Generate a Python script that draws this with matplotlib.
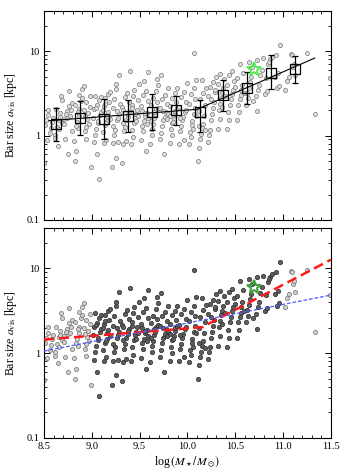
import matplotlib
matplotlib.use("Agg")
import matplotlib.pyplot as plt
import numpy as np
from matplotlib.ticker import FixedLocator, MultipleLocator, LogLocator, NullFormatter, FixedFormatter

plt.rcParams['font.family'] = ['Liberation Serif', 'DejaVu Serif']
plt.rcParams['mathtext.fontset'] = 'stix'

# ---- data: galaxies (log stellar mass, bar size kpc) ----
pts = [
 (8.51,1.33),(8.52,1.52),(8.545,1.74),(8.54,2.02),(8.565,1.08),(8.53,0.88),(8.575,1.24),(8.585,1.46),(8.50,0.48),(8.595,1.63),
 (8.645,0.76),(8.615,1.03),(8.632,1.27),(8.655,1.55),(8.668,1.66),(8.672,1.83),(8.622,2.06),(8.678,2.95),(8.692,2.62),(8.684,1.42),(8.661,1.19),(8.618,0.93),
 (8.752,0.60),(8.724,0.91),(8.712,1.37),(8.737,1.62),(8.744,1.94),(8.762,2.26),(8.758,3.42),(8.781,2.03),(8.773,1.71),(8.795,1.13),(8.706,1.58),(8.733,1.78),(8.789,2.44),
 (8.822,0.50),(8.834,0.66),(8.812,0.87),(8.853,1.22),(8.846,1.47),(8.866,1.73),(8.871,2.05),(8.825,2.33),(8.884,2.58),(8.862,3.04),(8.893,3.55),(8.914,3.86),(8.838,1.31),(8.857,1.91),(8.897,2.81),
 (8.992,0.42),(8.934,0.92),(8.925,1.12),(8.942,1.28),(8.951,1.57),(8.963,1.84),(8.915,2.01),(8.976,2.21),(8.936,2.47),(8.984,2.93),(8.966,1.39),(8.928,1.69),
 (9.072,0.31),(9.053,0.60),(9.021,0.84),(9.034,1.02),(9.046,1.21),(9.064,1.43),(9.012,1.62),(9.083,1.77),(9.026,2.04),(9.057,2.28),(9.075,2.63),(9.094,2.84),(9.035,2.97),(9.068,1.51),(9.091,1.93),(9.044,2.15),
 (9.124,0.81),(9.146,0.89),(9.112,1.09),(9.133,1.33),(9.155,1.49),(9.162,1.72),(9.174,1.88),(9.127,2.23),(9.183,2.47),(9.142,2.83),(9.165,3.12),(9.193,3.28),(9.116,2.01),(9.186,1.58),(9.151,1.41),(9.138,2.39),
 (9.213,0.42),(9.254,0.55),(9.226,0.81),(9.272,0.84),(9.234,1.03),(9.243,1.18),(9.265,1.53),(9.284,1.79),(9.218,2.12),(9.293,2.37),(9.237,2.74),(9.248,3.58),(9.257,4.04),(9.281,5.22),(9.276,1.62),(9.222,1.29),(9.262,1.98),
 (9.313,0.47),(9.324,0.79),(9.353,0.86),(9.335,1.12),(9.346,1.27),(9.362,1.52),(9.374,1.68),(9.385,1.92),(9.316,2.18),(9.393,2.53),(9.352,2.87),(9.367,3.22),(9.331,1.43),(9.376,1.81),(9.322,2.02),(9.394,5.80),
 (9.414,0.80),(9.433,0.96),(9.425,1.18),(9.446,1.42),(9.452,1.63),(9.463,1.78),(9.474,2.03),(9.416,2.31),(9.483,2.64),(9.435,2.98),(9.444,3.48),(9.492,4.05),(9.466,1.49),(9.423,2.11),(9.487,1.72),
 (9.563,0.65),(9.512,0.88),(9.534,1.13),(9.522,1.31),(9.545,1.48),(9.553,1.71),(9.574,1.87),(9.516,2.24),(9.584,2.57),(9.536,3.03),(9.565,3.41),(9.547,4.48),(9.583,5.60),(9.592,1.61),(9.527,1.97),(9.576,1.38),(9.557,1.83),
 (9.613,0.79),(9.632,1.02),(9.625,1.21),(9.644,1.39),(9.655,1.62),(9.663,1.78),(9.674,2.04),(9.617,2.29),(9.683,2.52),(9.636,2.77),(9.667,3.34),(9.692,3.96),(9.685,4.64),(9.623,1.51),(9.645,1.92),(9.694,2.13),
 (9.753,0.60),(9.713,0.91),(9.726,1.08),(9.734,1.31),(9.745,1.52),(9.763,1.67),(9.772,1.91),(9.714,2.12),(9.783,2.38),(9.736,2.72),(9.764,3.07),(9.792,3.63),(9.727,5.20),(9.785,1.58),(9.744,1.98),(9.796,1.81),
 (9.813,0.81),(9.836,1.01),(9.824,1.19),(9.843,1.42),(9.854,1.58),(9.865,1.82),(9.873,1.97),(9.815,2.23),(9.884,2.48),(9.833,2.83),(9.866,3.17),(9.894,3.62),(9.822,1.69),(9.886,2.12),(9.845,1.47),
 (9.914,0.80),(9.963,0.89),(9.923,1.12),(9.934,1.29),(9.945,1.52),(9.952,1.68),(9.976,1.93),(9.915,2.18),(9.984,2.53),(9.932,2.87),(9.965,3.32),(9.993,4.19),(9.926,1.62),(9.986,2.02),
 (10.013,0.79),(10.034,0.96),(10.024,1.09),(10.046,1.32),(10.052,1.48),(10.063,1.79),(10.074,2.12),(10.016,2.38),(10.083,2.72),(10.035,3.08),(10.066,3.62),(10.094,4.58),(10.072,9.50),(10.055,1.19),(10.093,1.71),
 (10.114,0.50),(10.125,0.72),(10.133,0.91),(10.146,1.04),(10.153,1.22),(10.164,1.39),(10.172,1.72),(10.116,1.98),(10.183,2.32),(10.135,2.68),(10.166,3.22),(10.193,3.68),(10.155,4.52),(10.186,1.16),(10.124,1.31),
 (10.214,0.85),(10.226,1.02),(10.233,1.18),(10.245,1.52),(10.253,1.78),(10.264,2.12),(10.272,2.48),(10.216,2.92),(10.284,3.28),(10.235,3.82),(10.266,4.28),(10.293,5.02),(10.244,2.68),(10.286,3.52),
 (10.314,1.21),(10.335,1.58),(10.326,2.03),(10.344,2.38),(10.353,2.82),(10.365,3.18),(10.376,3.63),(10.315,4.12),(10.384,4.68),(10.336,5.42),(10.394,2.98),(10.363,2.21),
 (10.414,1.19),(10.436,1.52),(10.423,1.88),(10.445,2.32),(10.453,2.68),(10.464,3.12),(10.475,3.48),(10.416,4.03),(10.484,4.48),(10.435,5.22),(10.463,5.78),(10.493,3.82),
 (10.514,1.52),(10.535,1.88),(10.523,2.32),(10.545,2.68),(10.556,3.02),(10.563,3.48),(10.574,4.02),(10.515,4.78),(10.585,5.52),(10.553,7.02),(10.594,3.18),
 (10.613,2.32),(10.636,2.78),(10.624,3.22),(10.645,3.68),(10.653,4.32),(10.664,4.98),(10.675,6.48),(10.643,7.52),(10.684,2.58),
 (10.723,1.95),(10.714,2.92),(10.735,3.48),(10.744,4.02),(10.763,5.18),(10.774,6.02),(10.726,7.82),(10.785,8.22),
 (10.813,3.12),(10.834,3.38),(10.825,4.82),(10.846,6.98),(10.865,8.02),(10.884,8.62),(10.856,7.48),
 (10.934,3.62),(10.955,3.88),(10.915,5.02),(10.943,5.48),(10.926,9.02),(10.972,12.00),
 (11.024,3.52),(11.045,4.48),(11.063,5.02),(11.084,9.32),(11.093,8.98),
 (11.124,5.22),(11.104,6.48),(11.115,7.02),
 (11.25,9.50),(11.33,1.80),(11.49,4.80),
]
mass = np.array([p[0] for p in pts])
size = np.array([p[1] for p in pts])

# binned medians with error bars
bin_x = [8.63, 8.88, 9.13, 9.38, 9.63, 9.88, 10.13, 10.37, 10.62, 10.87, 11.12]
bin_y = [1.38, 1.62, 1.58, 1.73, 1.90, 1.99, 1.93, 2.99, 3.66, 5.57, 6.22]
bin_lo = [0.87, 1.02, 0.91, 1.11, 1.18, 1.34, 1.11, 1.96, 2.34, 3.53, 4.20]
bin_hi = [2.15, 2.60, 2.73, 2.65, 3.10, 2.95, 2.63, 4.60, 5.67, 9.10, 8.70]

# fit lines
fit_x = [8.55, 10.10, 11.33]
fit_y = [1.50, 2.05, 8.30]
red_x = [8.50, 10.15, 11.50]
red_y = [1.45, 2.02, 12.7]
blue_x = [8.50, 11.50]
blue_y = [1.06, 4.85]

star_x, star_y = 10.70, 6.1

mass_lo, mass_hi = 9.0, 10.98

fig = plt.figure(figsize=(3.53, 4.74), dpi=100)
ax1 = fig.add_axes([0.1246, 0.5359, 0.8131, 0.4409])
ax2 = fig.add_axes([0.1246, 0.0760, 0.8131, 0.4430])

def style(ax, labels):
    ax.set_yscale('log')
    ax.set_xlim(8.5, 11.5)
    ax.set_ylim(0.1, 30)
    ax.xaxis.set_major_locator(MultipleLocator(0.5))
    ax.xaxis.set_minor_locator(MultipleLocator(0.1))
    ax.yaxis.set_major_locator(FixedLocator([0.1, 1, 10]))
    ax.yaxis.set_major_formatter(FixedFormatter(['0.1', '1', '10']))
    ax.yaxis.set_minor_locator(LogLocator(base=10, subs=np.arange(2, 10)))
    ax.yaxis.set_minor_formatter(NullFormatter())
    ax.tick_params(which='both', direction='in', top=True, right=True, labelsize=7.5, pad=3)
    ax.tick_params(which='major', length=4.5, width=0.7)
    ax.tick_params(which='minor', length=2.2, width=0.6)
    if labels:
        ax.set_xticks([8.5, 9.0, 9.5, 10.0, 10.5, 11.0, 11.5])
        ax.set_xticklabels(['8.5', '9.0', '9.5', '10.0', '10.5', '11.0', '11.5'])
    else:
        ax.tick_params(axis='x', labelbottom=False)
    for s in ax.spines.values():
        s.set_linewidth(0.8)
    ax.set_ylabel(r'Bar size $a_{\rm vis}$ [kpc]', fontsize=8.5, labelpad=6)

# top panel
ax1.scatter(mass, size, s=9, facecolor='#dcdcdc', edgecolor='#7a7a7a', linewidths=0.5, zorder=2)
ax1.plot(fit_x, fit_y, color='black', lw=0.8, zorder=3)
yerr = [np.array(bin_y) - np.array(bin_lo), np.array(bin_hi) - np.array(bin_y)]
ax1.errorbar(bin_x, bin_y, yerr=yerr, fmt='s', ms=7.5, mfc='none', mec='black', mew=0.9,
             ecolor='black', elinewidth=0.9, capsize=2.5, capthick=0.9, zorder=4)
ax1.plot([star_x], [star_y], marker='*', ms=10, mfc='none', mec='#44ee44', mew=1.3, zorder=5)
style(ax1, False)

# bottom panel
inner = (mass >= mass_lo) & (mass <= mass_hi)
ax2.scatter(mass[~inner], size[~inner], s=9, facecolor='#cfcfcf', edgecolor='#6f6f6f', linewidths=0.5, zorder=2)
ax2.scatter(mass[inner], size[inner], s=10, facecolor='#5e5e5e', edgecolor='#2e2e2e', linewidths=0.5, zorder=2)
ax2.plot(red_x, red_y, color='#ff1a1a', lw=1.8, dashes=(4, 2), zorder=3)
ax2.plot(blue_x, blue_y, color='#4a5cff', lw=0.9, dashes=(3, 1.5), zorder=3)
ax2.plot([star_x], [star_y], marker='*', ms=10, mfc='none', mec='#3fa33a', mew=1.5, zorder=5)
style(ax2, True)
ax2.set_xlabel(r'log$\,(M_\star/M_\odot)$', fontsize=8.5, labelpad=2)

fig.savefig('out.png', dpi=100)
